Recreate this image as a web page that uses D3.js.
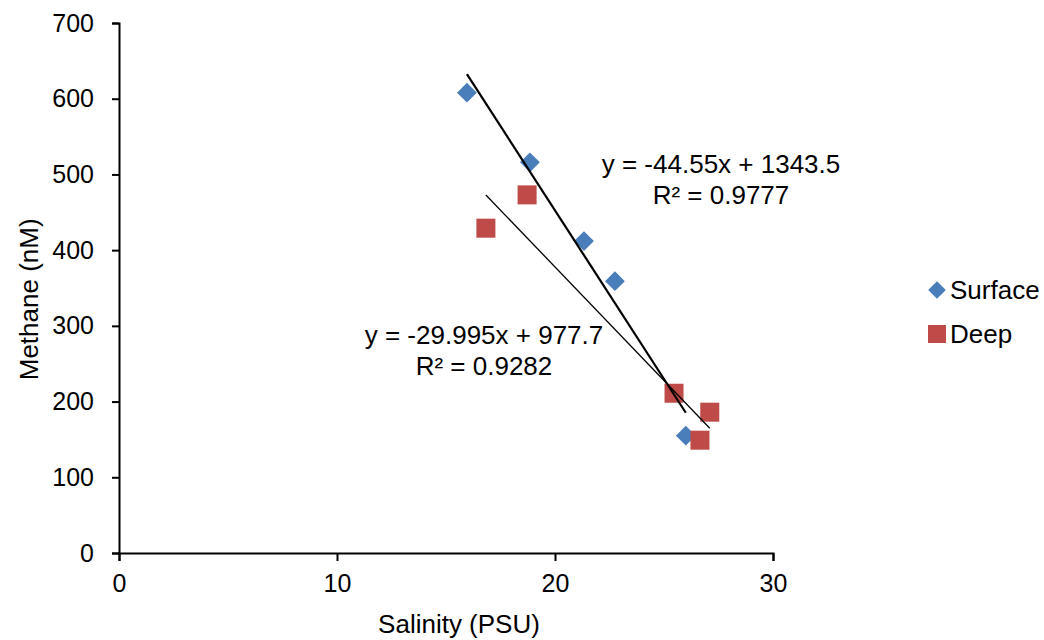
<!DOCTYPE html>
<html>
<head>
<meta charset="utf-8">
<script src="https://cdn.jsdelivr.net/npm/d3@7"></script>
<style>
  html, body { margin: 0; padding: 0; background: #fff; }
  svg text { font-family: "Liberation Sans", Arial, Helvetica, sans-serif; fill: #000; }
</style>
</head>
<body>
<svg id="chart" width="1044" height="640"></svg>
<script>
// Salinity (PSU) vs methane (nM) samples
const surfaceSalinity = [15.96, 18.85, 21.33, 22.75, 26.0];
const surfaceMethane  = [608, 516, 412, 359, 155];
const deepSalinity    = [16.83, 18.72, 25.46, 27.1, 26.65];
const deepMethane     = [429, 473, 211, 186, 149];

// Linear fits (slope, intercept, R²)
const surfaceFit = { slope: -44.55, intercept: 1343.5, r2: "0.9777", eq: "y = -44.55x + 1343.5" };
const deepFit    = { slope: -29.995, intercept: 977.7, r2: "0.9282", eq: "y = -29.995x + 977.7" };

const xTicks = [0, 10, 20, 30];
const yTicks = [0, 100, 200, 300, 400, 500, 600, 700];
const seriesNames = ["Surface", "Deep"];
const colors = { Surface: "#4a7ebb", Deep: "#be4b48" };

const svg = d3.select("#chart");
const plotLeft = 119, plotRight = 773, plotTop = 23, plotBottom = 553;
const fontSize = 26, tickFont = 25;

const x = d3.scaleLinear().domain([0, 30]).range([plotLeft, plotRight]);
const y = d3.scaleLinear().domain([0, 700]).range([plotBottom, plotTop]);

// Axes
const xAxis = d3.axisBottom(x).tickValues(xTicks).tickSize(8).tickFormat(d3.format("d"));
const yAxis = d3.axisLeft(y).tickValues(yTicks).tickSize(7).tickFormat(d3.format("d"));

const gx = svg.append("g").attr("transform", `translate(0,${plotBottom})`).call(xAxis);
const gy = svg.append("g").attr("transform", `translate(${plotLeft},0)`).call(yAxis);
[gx, gy].forEach(g => {
  g.selectAll(".domain").attr("stroke", "#000").attr("stroke-width", 2);
  g.selectAll(".tick line").attr("stroke", "#000").attr("stroke-width", 2);
  g.selectAll(".tick text").attr("font-size", tickFont)
    .style("font-family", "'Liberation Sans', Arial, sans-serif");
});
gx.selectAll(".tick text").attr("y", 21);
gy.selectAll(".tick text").attr("x", -25);

// Axis titles
svg.append("text")
  .attr("x", 459).attr("y", 633)
  .attr("text-anchor", "middle").attr("font-size", fontSize)
  .text("Salinity (PSU)");
svg.append("text")
  .attr("transform", `translate(38,${y(335)}) rotate(-90)`)
  .attr("text-anchor", "middle").attr("font-size", fontSize)
  .text("Methane (nM)");

// Trend lines across each series' salinity range
function trend(xs, fit, width) {
  const x0 = d3.min(xs), x1 = d3.max(xs);
  svg.append("line")
    .attr("x1", x(x0)).attr("y1", y(fit.slope * x0 + fit.intercept))
    .attr("x2", x(x1)).attr("y2", y(fit.slope * x1 + fit.intercept))
    .attr("stroke", "#000").attr("stroke-width", width);
}

// Markers
function drawSurface(g, cx, cy, side) {
  g.append("rect")
    .attr("x", -side / 2).attr("y", -side / 2).attr("width", side).attr("height", side)
    .attr("transform", `translate(${cx},${cy}) rotate(45)`)
    .attr("fill", colors.Surface);
}
function drawDeep(g, cx, cy, side) {
  g.append("rect")
    .attr("x", cx - side / 2).attr("y", cy - side / 2).attr("width", side).attr("height", side)
    .attr("fill", colors.Deep);
}

const pts = svg.append("g");
surfaceSalinity.forEach((s, i) => drawSurface(pts, x(s), y(surfaceMethane[i]), 14));
deepSalinity.forEach((s, i) => drawDeep(pts, x(s), y(deepMethane[i]), 19));

trend(surfaceSalinity, surfaceFit, 2.2);
trend(deepSalinity, deepFit, 1.3);

// Fit labels
function fitLabel(fit, cx, cy) {
  const t = svg.append("text").attr("text-anchor", "middle").attr("font-size", fontSize);
  t.append("tspan").attr("x", cx).attr("y", cy).text(fit.eq);
  t.append("tspan").attr("x", cx).attr("y", cy + 31).text("R² = " + fit.r2);
}
fitLabel(surfaceFit, 721, 173);
fitLabel(deepFit, 484, 344);

// Legend
const legend = svg.append("g");
drawSurface(legend, 937, 290, 12.5);
legend.append("text").attr("x", 950).attr("y", 299).attr("font-size", fontSize).text(seriesNames[0]);
drawDeep(legend, 937, 334, 18);
legend.append("text").attr("x", 950).attr("y", 343).attr("font-size", fontSize).text(seriesNames[1]);
</script>
</body>
</html>
